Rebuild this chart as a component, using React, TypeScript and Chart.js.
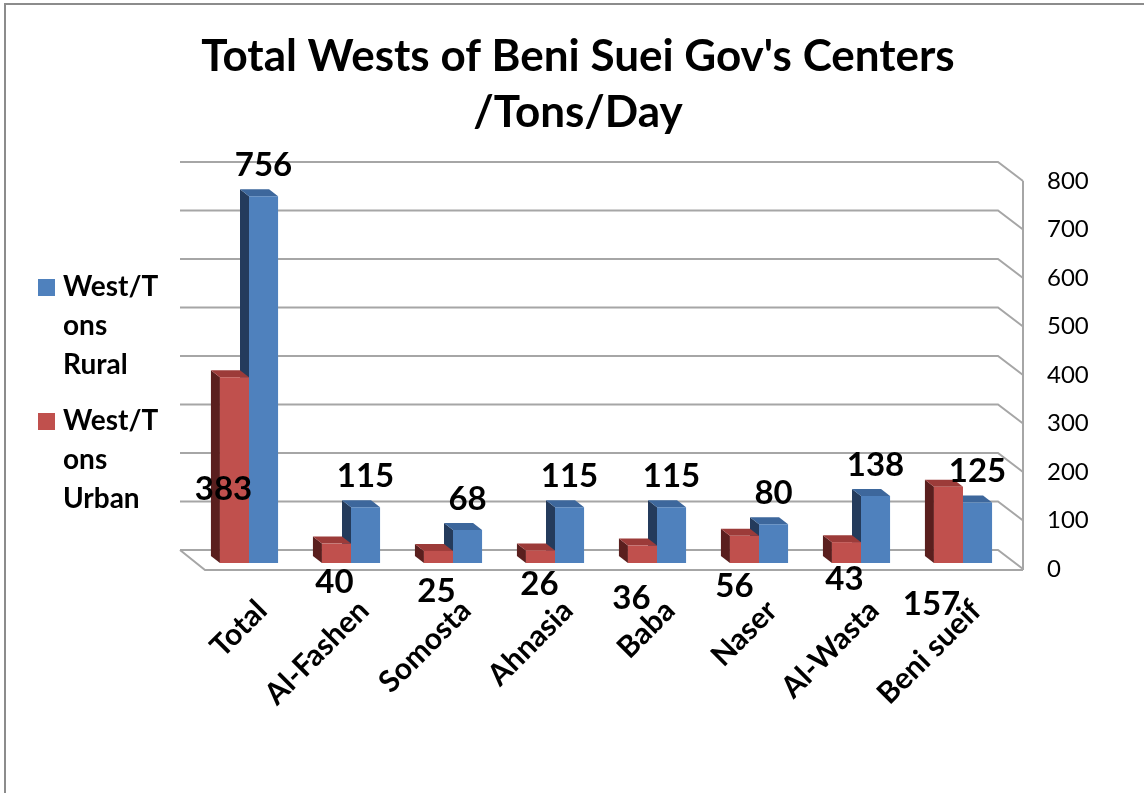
import React, { useEffect, useRef } from "react";
import { Chart, registerables } from "chart.js";

Chart.register(...registerables);

// ---- data ----
const categories = ["Total", "Al-Fashen", "Somosta", "Ahnasia", "Baba", "Naser", "Al-Wasta", "Beni sueif"];
const urbanValues = [383, 40, 25, 26, 36, 56, 43, 157];
const ruralValues = [756, 115, 68, 115, 115, 80, 138, 125];
const yMin = 0;
const yMax = 800;
const yStep = 100;
const titleLines = ["Total Wests of Beni Suei Gov's Centers", "/Tons/Day"];
const ruralLegend = ["West/T", "ons", "Rural"];
const urbanLegend = ["West/T", "ons", "Urban"];
// label nudges (Excel's placement of the urban value labels)
const urbanLabelNudgeX = [-11, -2, -2, -1, -11, -10, -2, -17];
const urbanLabelNudgeY = [-95, -2, 7, 0, 14, 2, -5, 20];

const FONT = "Lato, 'Open Sans', 'DejaVu Sans', sans-serif";
const BLUE = "#4f81bd";
const BLUE_SIDE = "#243b5c";
const BLUE_TOP = "#3d679c";
const RED = "#c0504d";
const RED_SIDE = "#5a1f1e";
const RED_TOP = "#9c3b39";
const GRID = "#a6a6a6";
const DX = 9;
const DY = 7;

const wallPlugin = {
  id: "wall",
  beforeDatasetsDraw(chart: any) {
    const ctx = chart.ctx as CanvasRenderingContext2D;
    const y = chart.scales.y;
    const area = chart.chartArea;
    const backL = area.left - 18;
    const backR = area.right - 16;
    const frontR = area.right + 9;
    const frontL = area.left + 7;
    ctx.save();
    ctx.strokeStyle = GRID;
    ctx.lineWidth = 2;
    for (let v = yMin; v <= yMax; v += yStep) {
      const py = y.getPixelForValue(v);
      ctx.beginPath();
      ctx.moveTo(backL, py - 13);
      ctx.lineTo(backR, py - 13);
      ctx.lineTo(frontR, py + 6);
      ctx.stroke();
    }
    const p0 = y.getPixelForValue(0);
    const pTop = y.getPixelForValue(yMax);
    ctx.beginPath();
    ctx.moveTo(backL, p0 - 13);
    ctx.lineTo(frontL, p0 + 7);
    ctx.lineTo(frontR, p0 + 7);
    ctx.stroke();
    ctx.beginPath();
    ctx.moveTo(frontR, pTop + 6);
    ctx.lineTo(frontR, p0 + 7);
    ctx.stroke();
    ctx.restore();

    // 3D side & top faces: blue first, then red
    const order = [1, 0];
    for (const di of order) {
      const meta = chart.getDatasetMeta(di);
      const side = di === 1 ? BLUE_SIDE : RED_SIDE;
      const top = di === 1 ? BLUE_TOP : RED_TOP;
      meta.data.forEach((bar: any) => {
        const { x, y: by, base, width } = bar.getProps(["x", "y", "base", "width"], true);
        const l = x - width / 2;
        const r = x + width / 2;
        ctx.save();
        ctx.fillStyle = side;
        ctx.beginPath();
        ctx.moveTo(l, by);
        ctx.lineTo(l - DX, by - DY);
        ctx.lineTo(l - DX, base - DY);
        ctx.lineTo(l, base);
        ctx.closePath();
        ctx.fill();
        ctx.fillStyle = top;
        ctx.beginPath();
        ctx.moveTo(l, by);
        ctx.lineTo(r, by);
        ctx.lineTo(r - DX, by - DY);
        ctx.lineTo(l - DX, by - DY);
        ctx.closePath();
        ctx.fill();
        ctx.restore();
      });
    }
  },
};

const labelPlugin = {
  id: "valueLabels",
  afterDatasetsDraw(chart: any) {
    const ctx = chart.ctx as CanvasRenderingContext2D;
    ctx.save();
    ctx.fillStyle = "#000";
    ctx.font = `bold 33px ${FONT}`;
    ctx.textAlign = "center";
    ctx.textBaseline = "alphabetic";
    const blue = chart.getDatasetMeta(1);
    blue.data.forEach((bar: any, i: number) => {
      const { x, y } = bar.getProps(["x", "y"], true);
      ctx.fillText(String(ruralValues[i]), x, y - 20);
    });
    const red = chart.getDatasetMeta(0);
    const bottom = chart.chartArea.bottom;
    red.data.forEach((bar: any, i: number) => {
      const { x } = bar.getProps(["x"], true);
      ctx.fillText(String(urbanValues[i]), x + urbanLabelNudgeX[i], bottom + 32 + urbanLabelNudgeY[i]);
    });
    ctx.restore();
  },
};

const decorPlugin = {
  id: "decor",
  afterDraw(chart: any) {
    const ctx = chart.ctx as CanvasRenderingContext2D;
    ctx.save();
    // frame
    ctx.strokeStyle = "#8c8c8c";
    ctx.lineWidth = 2;
    ctx.beginPath();
    ctx.moveTo(5, 793);
    ctx.lineTo(5, 4);
    ctx.lineTo(1144, 4);
    ctx.stroke();
    // title
    ctx.fillStyle = "#000";
    ctx.font = `bold 44px ${FONT}`;
    ctx.textAlign = "center";
    ctx.textBaseline = "middle";
    titleLines.forEach((t, i) => ctx.fillText(t, 578, 57 + i * 56));
    // legend
    ctx.font = `bold 28px ${FONT}`;
    ctx.textAlign = "left";
    const drawEntry = (color: string, lines: string[], y0: number) => {
      ctx.fillStyle = color;
      ctx.fillRect(38, y0 - 8, 17, 17);
      ctx.fillStyle = "#000";
      lines.forEach((l, i) => ctx.fillText(l, 63, y0 + i * 39));
    };
    drawEntry(BLUE, ruralLegend, 287);
    drawEntry(RED, urbanLegend, 421);
    ctx.restore();
  },
};

export default function App() {
  const ref = useRef<HTMLCanvasElement>(null);
  useEffect(() => {
    const canvas = ref.current!;
    const chart = new Chart(canvas, {
      type: "bar",
      data: {
        labels: categories,
        datasets: [
          { label: "West/Tons Urban", data: urbanValues, backgroundColor: RED, categoryPercentage: 0.57, barPercentage: 1 },
          { label: "West/Tons Rural", data: ruralValues, backgroundColor: BLUE, categoryPercentage: 0.57, barPercentage: 1 },
        ],
      },
      options: {
        responsive: false,
        animation: false,
        devicePixelRatio: 1,
        layout: { padding: { left: 198, top: 175, right: 0, bottom: 0 } },
        plugins: { legend: { display: false }, title: { display: false }, tooltip: { enabled: false } },
        scales: {
          x: {
            grid: { display: false, drawTicks: false },
            border: { display: false },
            ticks: {
              color: "#000",
              font: { family: FONT, size: 30, weight: "bold" },
              minRotation: 45,
              maxRotation: 45,
              labelOffset: 13,
              padding: 30,
              autoSkip: false,
            },
            afterFit: (s: any) => {
              s.height = 230;
            },
          },
          y: {
            position: "right",
            min: yMin,
            max: yMax,
            ticks: { stepSize: yStep, color: "#000", font: { family: FONT, size: 24 }, padding: 33, labelOffset: 6 },
            grid: { display: false, drawTicks: false },
            border: { display: false },
            afterFit: (s: any) => {
              s.width = 130;
            },
          },
        },
      },
      plugins: [wallPlugin, labelPlugin, decorPlugin],
    } as any);
    return () => chart.destroy();
  }, []);
  return (
    <div style={{ position: "fixed", left: 0, top: 0, width: 1144, height: 793, background: "#fff" }}>
      <canvas ref={ref} width={1144} height={793} style={{ display: "block", width: 1144, height: 793 }} />
    </div>
  );
}
